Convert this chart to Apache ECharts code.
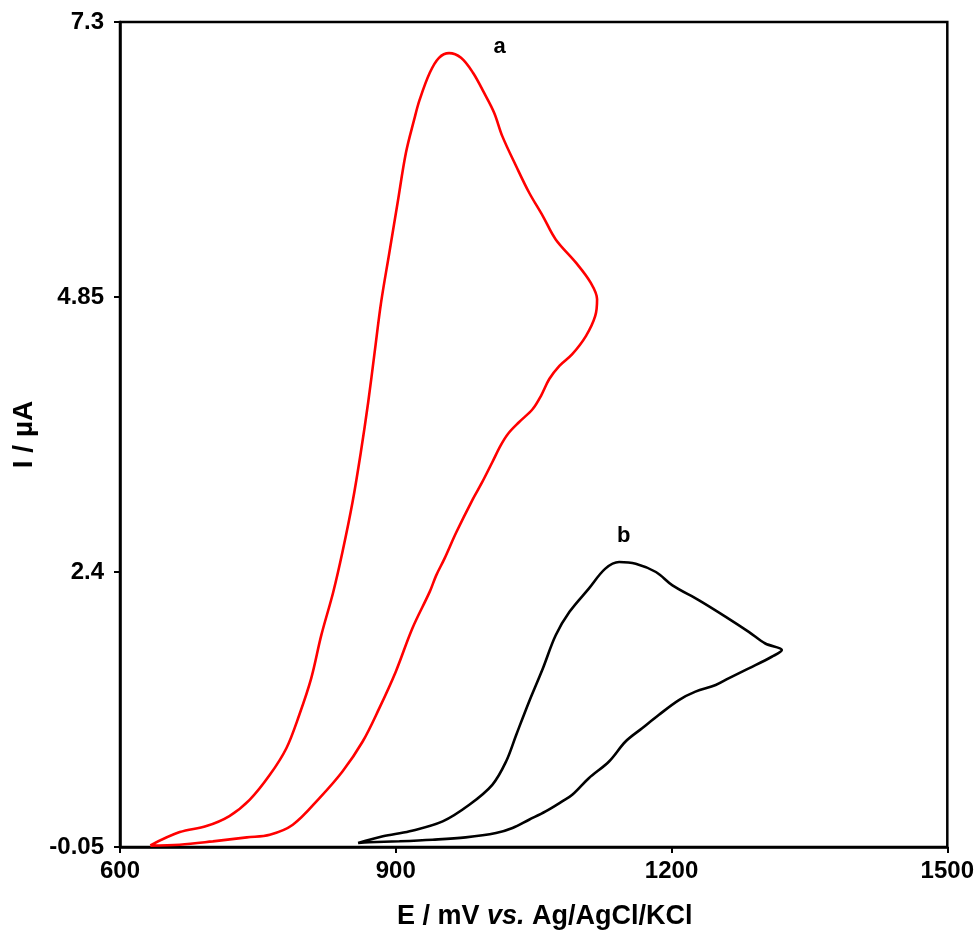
<!DOCTYPE html>
<html>
<head>
<meta charset="utf-8">
<title>CV</title>
<script src="https://cdn.jsdelivr.net/npm/echarts@6/dist/echarts.min.js"></script>
<style>
    html, body { margin: 0; padding: 0; background: #fff; }
    #main { width: 977px; height: 935px; }
</style>
</head>
<body>
<div id="main"></div>
<script>
// 曲线 a（红色）电位 mV / 电流 µA
var aPotential = [633, 665, 694, 719, 741, 763, 781, 795, 808, 819, 832, 842, 853, 862, 870, 877, 884, 893, 902, 911, 920, 926, 937, 947, 958,
    971, 984, 996, 1007, 1016, 1031, 1045, 1060, 1074, 1096, 1112, 1119, 1117,
    1107, 1092, 1078, 1067, 1058, 1049, 1034, 1022, 1014, 1005, 994, 984, 966, 953, 944, 937, 918, 900, 882, 864, 842, 817, 788, 763, 738, 701, 665, 633];
var aCurrent = [-0.035, 0.083, 0.137, 0.226, 0.37, 0.593, 0.83, 1.126, 1.452, 1.837, 2.222, 2.578, 3.023, 3.467, 3.912, 4.356, 4.8, 5.245, 5.689, 6.133, 6.43, 6.608, 6.848, 6.981, 7.023,
    6.981, 6.848, 6.67, 6.492, 6.281, 6.015, 5.781, 5.571, 5.363, 5.156, 4.978, 4.83, 4.681,
    4.504, 4.341, 4.237, 4.119, 3.97, 3.852, 3.734, 3.63, 3.526, 3.378, 3.2, 3.052, 2.756, 2.519, 2.37, 2.225, 1.897, 1.512, 1.185, 0.89, 0.623, 0.386, 0.148, 0.059, 0.036, 0.0, -0.03, -0.038];

// 曲线 b（黑色）
var bPotential = [859, 886, 915, 951, 980, 1005, 1020, 1031, 1045, 1060, 1074, 1089, 1110, 1128, 1143, 1161, 1183, 1201, 1230, 1259, 1284, 1302, 1320,
    1309, 1284, 1262, 1248, 1226, 1208, 1186, 1168, 1150, 1132, 1110, 1092, 1081, 1063, 1045, 1027, 1009, 976, 940, 904, 871, 859];
var bCurrent = [-0.014, 0.045, 0.09, 0.178, 0.326, 0.504, 0.712, 0.948, 1.245, 1.541, 1.837, 2.045, 2.252, 2.43, 2.489, 2.474, 2.4, 2.281, 2.148, 2.001, 1.867, 1.763, 1.704,
    1.645, 1.541, 1.452, 1.393, 1.334, 1.259, 1.126, 1.008, 0.89, 0.712, 0.563, 0.415, 0.356, 0.267, 0.193, 0.119, 0.074, 0.036, 0.015, 0.001, -0.008, -0.014];

// 坐标轴刻度
var xTicks = [600, 900, 1200, 1500];
var yTicks = [-0.05, 2.4, 4.85, 7.3];

// 曲线标注 [名称, 电位, 电流]
var curveLabels = [['a', 1013, 7.08], ['b', 1148, 2.72]];

function zip(xs, ys) {
    var out = [];
    for (var i = 0; i < xs.length; i++) {
        out.push([xs[i], ys[i]]);
    }
    return out;
}

var chart = echarts.init(document.getElementById('main'), null, {renderer: 'canvas'});
var font = 'Liberation Sans, Arial, sans-serif';

function tagPoint(item) {
    return {
        data: [{coord: [item[1], item[2]], value: item[0]}],
        symbol: 'circle',
        symbolSize: 0,
        label: {
            show: true,
            position: 'inside',
            formatter: '{c}',
            color: '#000',
            fontFamily: font,
            fontWeight: 'bold',
            fontSize: 22
        }
    };
}

var option = {
    backgroundColor: '#fff',
    animation: false,
    grid: {
        left: 120,
        top: 22,
        right: 28,
        bottom: 86,
        show: true,
        borderColor: '#000',
        borderWidth: 2.5
    },
    xAxis: {
        type: 'value',
        min: xTicks[0],
        max: xTicks[xTicks.length - 1],
        interval: xTicks[1] - xTicks[0],
        name: '{t|E / mV }{i|vs.}{t| Ag/AgCl/KCl}',
        nameLocation: 'middle',
        nameGap: 56,
        nameTextStyle: {
            padding: [0, 0, 0, 22],
            rich: {
                t: {fontFamily: font, fontWeight: 'bold', fontSize: 27, color: '#000'},
                i: {fontFamily: font, fontWeight: 'bold', fontStyle: 'italic', fontSize: 27, color: '#000'}
            }
        },
        axisLine: {show: true, onZero: false, lineStyle: {color: '#000', width: 2.5}},
        axisTick: {show: true, inside: false, length: 6, lineStyle: {color: '#000', width: 2}},
        axisLabel: {
            margin: 12,
            color: '#000',
            fontFamily: font,
            fontWeight: 'bold',
            fontSize: 24,
            formatter: function (v) {
                return String(v);
            }
        },
        splitLine: {show: false}
    },
    yAxis: {
        type: 'value',
        min: yTicks[0],
        max: yTicks[yTicks.length - 1],
        interval: 2.45,
        name: 'I / µA',
        nameLocation: 'middle',
        nameGap: 76,
        nameTextStyle: {fontFamily: font, fontWeight: 'bold', fontSize: 28, color: '#000'},
        axisLine: {show: true, onZero: false, lineStyle: {color: '#000', width: 2.5}},
        axisTick: {show: true, inside: false, length: 6, lineStyle: {color: '#000', width: 2}},
        axisLabel: {
            margin: 16,
            color: '#000',
            fontFamily: font,
            fontWeight: 'bold',
            fontSize: 24,
            formatter: function (v) {
                return String(Number(v.toFixed(2)));
            }
        },
        splitLine: {show: false}
    },
    series: [{
        name: 'a',
        type: 'line',
        data: zip(aPotential, aCurrent),
        smooth: 0.35,
        showSymbol: false,
        lineStyle: {color: '#ff0000', width: 2.6},
        markPoint: tagPoint(curveLabels[0])
    }, {
        name: 'b',
        type: 'line',
        data: zip(bPotential, bCurrent),
        smooth: 0.35,
        showSymbol: false,
        lineStyle: {color: '#000', width: 2.6},
        markPoint: tagPoint(curveLabels[1])
    }]
};
chart.setOption(option);
</script>
</body>
</html>
